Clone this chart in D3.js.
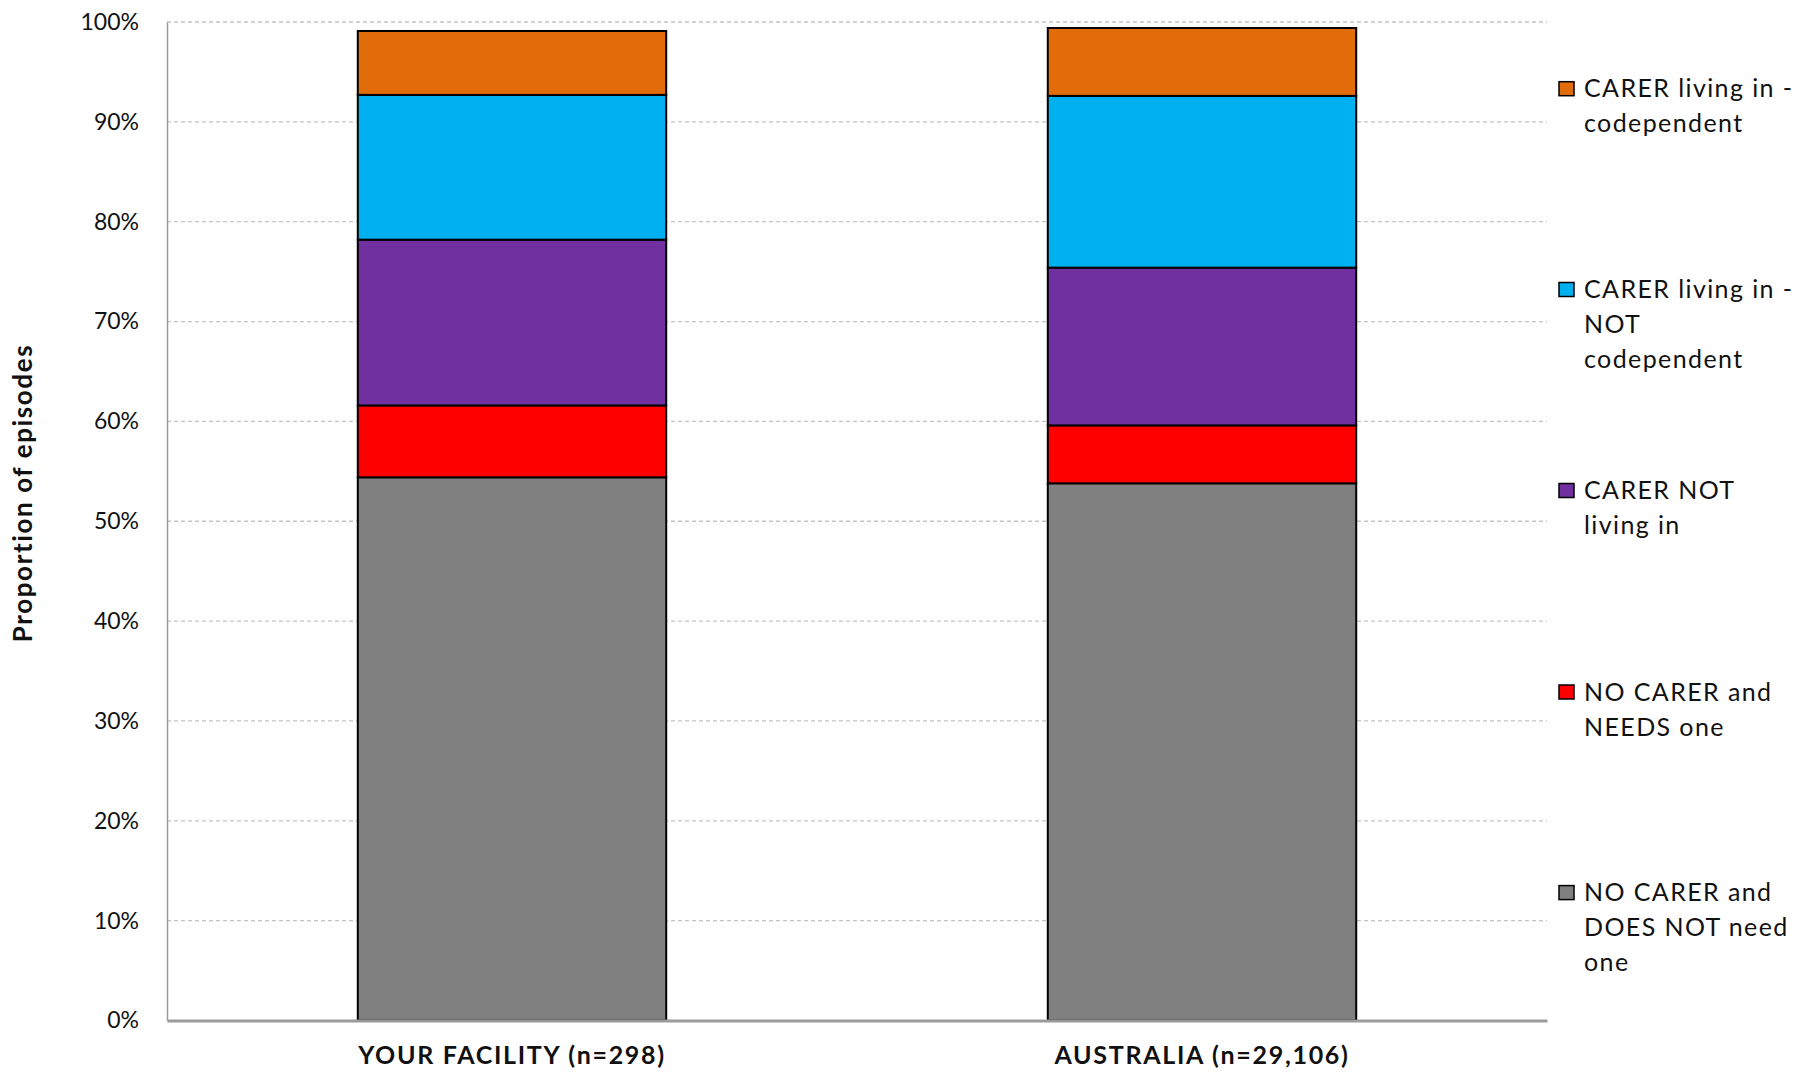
<!DOCTYPE html>
<html><head><meta charset="utf-8">
<script src="https://cdn.jsdelivr.net/npm/d3@7"></script>
<style>body{margin:0;background:#fff;} svg{display:block;}</style>
</head><body><svg id="c" width="1806" height="1074"></svg>
<script>
const categories = ["YOUR FACILITY (n=298)", "AUSTRALIA (n=29,106)"];
const seriesNames = ["NO CARER and DOES NOT need one", "NO CARER and NEEDS one", "CARER NOT living in", "CARER living in - NOT codependent", "CARER living in - codependent"];
const noCarerNoNeed = [54.4, 53.8];
const noCarerNeeds = [7.2, 5.8];
const carerNotLivingIn = [16.6, 15.8];
const carerLivingInNotCodep = [14.5, 17.2];
const carerLivingInCodep = [6.4, 6.8];
const colors = ["#808080", "#FF0000", "#7030A0", "#00B0F0", "#E36C0A"];
const yTicks = [0,10,20,30,40,50,60,70,80,90,100];
const legendLines = [
  ["CARER living in -", "codependent"],
  ["CARER living in -", "NOT", "codependent"],
  ["CARER NOT", "living in"],
  ["NO CARER and", "NEEDS one"],
  ["NO CARER and", "DOES NOT need", "one"]
];
const legendColors = ["#E36C0A", "#00B0F0", "#7030A0", "#FF0000", "#808080"];

const seriesVals = [noCarerNoNeed, noCarerNeeds, carerNotLivingIn, carerLivingInNotCodep, carerLivingInCodep];
const rows = categories.map((c,i)=>{const r={cat:c}; seriesNames.forEach((s,j)=>r[s]=seriesVals[j][i]); return r;});
const stack = d3.stack().keys(seriesNames)(rows);

const svg = d3.select("#c");
const font = "Lato, 'Open Sans', sans-serif";
const L=167, R=1547, T=22, B=1020.5;
const x = d3.scaleBand().domain(categories).range([L,R]).paddingInner(0.553).paddingOuter(0.2765);
const y = d3.scaleLinear().domain([0,100]).range([B,T]);

// gridlines
svg.append("g").selectAll("line").data(yTicks.filter(t=>t>0)).join("line")
  .attr("x1",L).attr("x2",R).attr("y1",d=>y(d)).attr("y2",d=>y(d))
  .attr("stroke","#c4c4c4").attr("stroke-width",1.3).attr("stroke-dasharray","4,3");

// y axis
const yAxis = d3.axisLeft(y).tickValues(yTicks).tickFormat(d=>d+"%").tickSize(0).tickPadding(28);
const gy = svg.append("g").attr("transform",`translate(${L},0)`).call(yAxis);
gy.select(".domain").attr("stroke","#9a9a9a").attr("stroke-width",1.5);
gy.selectAll("text").attr("font-family",font).attr("font-size",23).attr("fill","#111");

// bars
svg.append("g").selectAll("g").data(stack).join("g")
  .attr("fill",(d,i)=>colors[i])
  .selectAll("rect").data(d=>d).join("rect")
  .attr("x",d=>x(d.data.cat)).attr("width",x.bandwidth())
  .attr("y",d=>y(d[1])).attr("height",d=>y(d[0])-y(d[1]))
  .attr("stroke","#000").attr("stroke-width",2);

// x axis
const xAxis = d3.axisBottom(x).tickSize(0).tickPadding(26);
const gx = svg.append("g").attr("transform",`translate(0,${B})`).call(xAxis);
gx.select(".domain").attr("stroke","#9a9a9a").attr("stroke-width",3);
gx.selectAll("text").attr("font-family",font).attr("font-size",25).attr("font-weight","bold")
  .attr("letter-spacing","1.7px").attr("fill","#111");

// y title
svg.append("text").attr("transform","translate(32,493) rotate(-90)")
  .attr("text-anchor","middle").attr("font-family",font).attr("font-size",26).attr("font-weight","bold")
  .attr("letter-spacing","1.6px").attr("fill","#111").text("Proportion of episodes");

// legend
const lg = svg.append("g");
const legendTop = [88.7, 289.5, 490.5, 692, 892.6];
legendLines.forEach((lines,i)=>{
  const g = lg.append("g");
  g.append("rect").attr("x",1559).attr("y",legendTop[i]-7).attr("width",15).attr("height",14)
    .attr("fill",legendColors[i]).attr("stroke","#000").attr("stroke-width",1.5);
  lines.forEach((t,k)=>{
    g.append("text").attr("x",1584).attr("y",legendTop[i]+k*35).attr("dy","0.35em")
      .attr("font-family",font).attr("font-size",25).attr("letter-spacing","1.4px").attr("fill","#111").text(t);
  });
});
</script></body></html>
